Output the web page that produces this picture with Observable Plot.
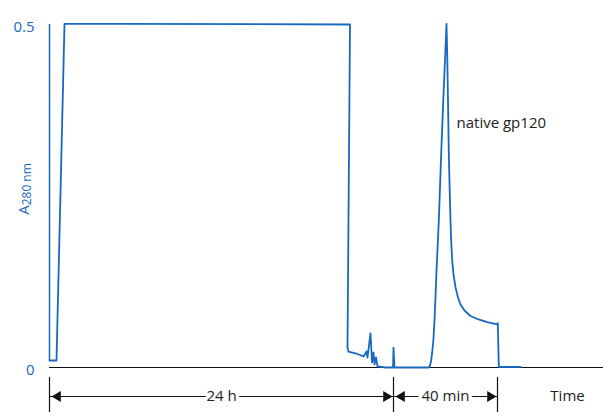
<!DOCTYPE html>
<html><head><meta charset="utf-8">
<script src="https://cdn.jsdelivr.net/npm/d3@7"></script>
<script src="https://cdn.jsdelivr.net/npm/@observablehq/plot@0.6"></script>
<style>body{margin:0;background:#fff} svg{display:block}</style>
</head><body><div id="chart"></div>
<script>
const blue = "#1769c0";
const ink = "#222";

// Chromatogram trace (arbitrary time units, A280)
const time = [0, 7, 15, 71, 300.5, 298, 299, 307, 314, 317, 318, 321, 322.5, 324, 325, 326.5, 328, 336, 343.5, 344, 345,
  379.3, 380.5, 381.5, 382.7, 384, 385, 386, 387, 388.2, 389.3, 390.5, 391.7, 393, 394.3, 395.7, 397,
  397.7, 398.5, 399.3, 400.2, 401, 401.8, 402.7, 404, 406, 408.5, 411, 415, 421, 429, 437.7, 447.7, 448.3, 449.3, 471];
const absorbance = [0.0102, 0.0102, 0.501, 0.501, 0.5, 0.029, 0.0233, 0.0204, 0.016, 0.0233, 0.0146, 0.0496, 0.0073, 0.0219, 0.0044, 0.0146, 0.0015, 0, 0, 0.029, 0,
  0, 0.0029, 0.0087, 0.0219, 0.0423, 0.0685, 0.1035, 0.1414, 0.1778, 0.2143, 0.2624, 0.312, 0.3601, 0.4086, 0.4548, 0.501,
  0.4577, 0.3892, 0.312, 0.258, 0.2143, 0.1808, 0.156, 0.1356, 0.117, 0.102, 0.0918, 0.0831, 0.0751, 0.07, 0.066, 0.0627, 0.0646, 0.0007, 0.0007];

// Phase boundaries on the time axis and their labels
const boundaries = [0, 344, 448];
const phaseLabels = ["24 h", "40 min"];
const yTicks = [0, 0.5];
const yLabelMain = "A";
const yLabelSub = "280 nm";
const peakLabel = {t: 407, a: 0.356, text: "native gp120"};
const timeLabel = {t: 518, text: "Time"};

const trace = time.map((t, i) => ({t, a: absorbance[i]}));
const phases = phaseLabels.map((label, i) => ({x1: boundaries[i], x2: boundaries[i + 1], mid: (boundaries[i] + boundaries[i + 1]) / 2, label}));
const rightTips = boundaries.slice(1);
const leftTips = boundaries.slice(0, -1);

const chart = Plot.plot({
  width: 606,
  height: 416,
  marginLeft: 49,
  marginRight: 3,
  marginTop: 24,
  marginBottom: 49,
  style: {fontFamily: "'Open Sans', sans-serif", fontSize: "15px", background: "#fff"},
  x: {domain: [0, 554], axis: null},
  y: {domain: [0, 0.5], axis: null},
  marks: [
    // blue y axis line
    Plot.ruleX([0], {y1: absorbance[0], y2: yTicks[1], stroke: blue, strokeWidth: 1.5}),
    Plot.axisY(yTicks, {label: null, tickSize: 0, tickPadding: 15, tickFormat: d => String(d), color: blue, fontSize: 15, dy: 2.5}),
    Plot.text([yLabelMain], {
      frameAnchor: "left", textAnchor: "middle", text: d => d, rotate: -90, dx: -25, dy: -7, fill: blue, fontSize: 15,
      render(index, scales, values, dims, context, next) {
        const g = next(index, scales, values, dims, context);
        d3.select(g).selectAll("text").append("tspan").attr("font-size", 12).attr("dy", "0.15em").text(yLabelSub);
        return g;
      }
    }),
    // black time axis
    Plot.ruleY([0], {stroke: "#111", strokeWidth: 1.2}),
    // trace
    Plot.line(trace, {x: "t", y: "a", stroke: blue, strokeWidth: 1.8, strokeLinejoin: "round"}),
    Plot.text([peakLabel], {x: "t", y: "a", text: "text", textAnchor: "start", fill: ink, fontSize: 15}),
    // phase brackets below the axis
    Plot.ruleX(boundaries, {stroke: "#111", strokeWidth: 1.2, insetTop: 353, insetBottom: -45}),
    Plot.ruleY(phases, {x1: "x1", x2: "x2", y: 0, dy: 29, stroke: "#111", strokeWidth: 1.2}),
    Plot.dot(rightTips, {x: d => d, y: 0, dy: 29, dx: -7.2, symbol: "triangle", r: 4, rotate: 90, fill: "#111", stroke: null}),
    Plot.dot(leftTips, {x: d => d, y: 0, dy: 29, dx: 8.2, symbol: "triangle", r: 4, rotate: -90, fill: "#111", stroke: null}),
    Plot.text(phases, {x: "mid", y: 0, dy: 29, text: "label", fill: ink, fontSize: 15, stroke: "white", strokeWidth: 7}),
    Plot.text([timeLabel], {x: "t", y: 0, dy: 29, text: "text", fill: ink, fontSize: 15})
  ]
});
document.getElementById("chart").appendChild(chart);
</script>
</body></html>
